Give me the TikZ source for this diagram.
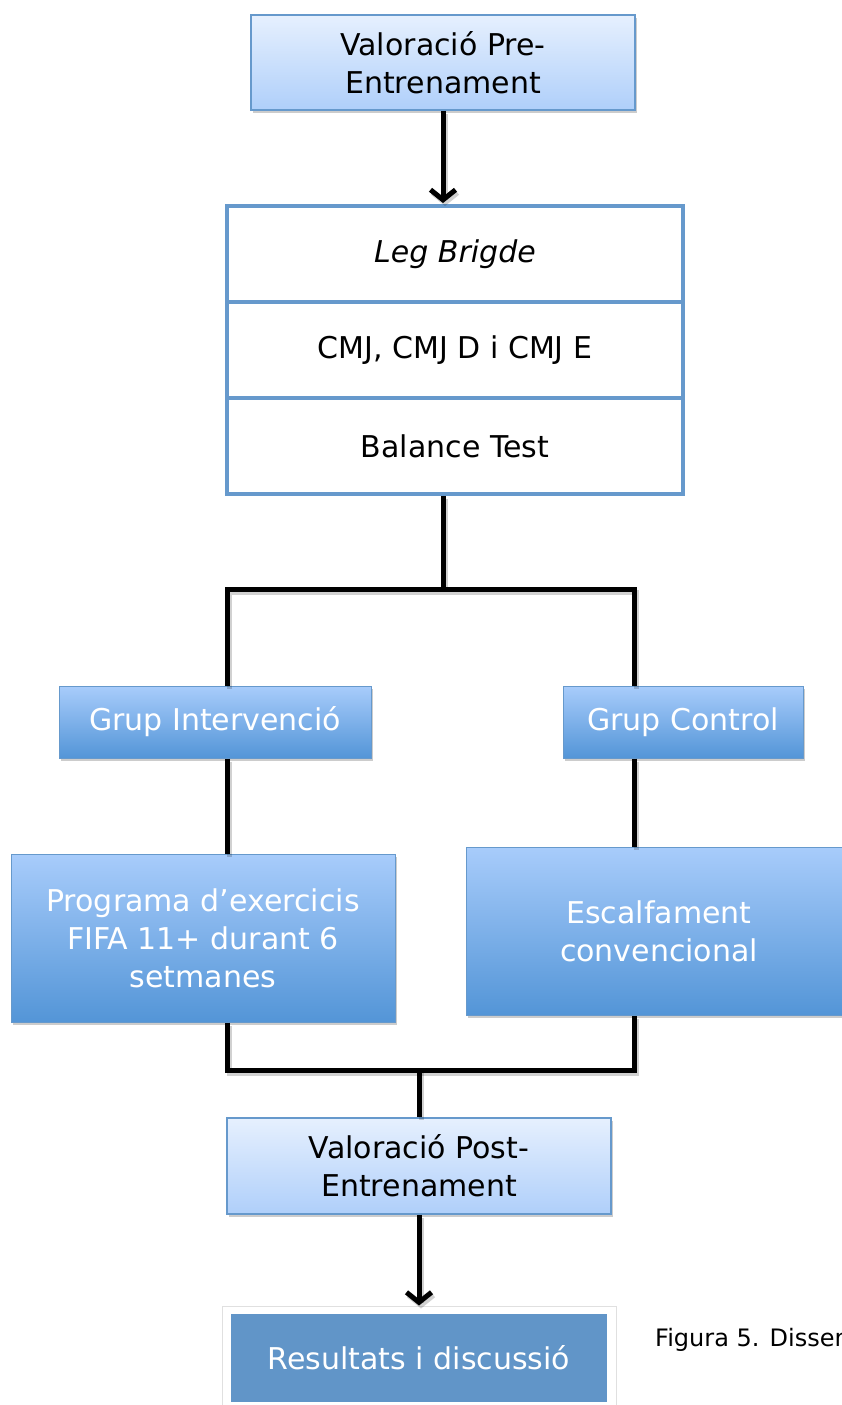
\documentclass[tikz,border=0pt]{standalone}
\usepackage{fontspec}
\setmainfont{DejaVu Sans}
\usetikzlibrary{arrows.meta,shadows}
\definecolor{bord}{HTML}{6699CC}
\definecolor{lighttop}{HTML}{E6F0FE}
\definecolor{lightbot}{HTML}{AFCFFA}
\definecolor{midtop}{HTML}{A8CCFB}
\definecolor{midbot}{HTML}{5395D7}
\definecolor{resfill}{HTML}{6195C8}
\tikzset{
  txt/.style={font=\fontsize{30}{38}\selectfont, align=center, inner sep=0pt},
  lightbox/.style={txt, draw=bord, line width=1.5pt, top color=lighttop, bottom color=lightbot,
    drop shadow={opacity=0.4, shadow xshift=2pt, shadow yshift=-3pt}},
  darkbox/.style={txt, text=white, draw=bord, line width=1pt, top color=midtop, bottom color=midbot,
    drop shadow={opacity=0.4, shadow xshift=2pt, shadow yshift=-3pt}},
  rowbox/.style={txt, draw=bord, line width=4pt, fill=white, minimum width=456pt, minimum height=96pt},
  conn/.style={draw=black, line width=5pt, line join=miter,
    preaction={draw=black, opacity=0.18, line width=5pt, transform canvas={shift={(2pt,-3pt)}}}},
  arr/.style={conn, -{Straight Barb[length=10pt,width=25pt]}},
}
\begin{document}
\begin{tikzpicture}[x=1pt,y=-1pt]
\useasboundingbox (0,0) rectangle (842,1405);
\clip (0,0) rectangle (842,1405);
\fill[white] (0,0) rectangle (842,1405);

\node[lightbox, minimum width=384pt, minimum height=95pt] (pre) at (443,62.5) {Valoració Pre-\\Entrenament};

\node[rowbox] (leg) at (455,254) {\itshape Leg Brigde};
\node[rowbox] (cmj) at (455,350) {CMJ, CMJ D i CMJ E};
\node[rowbox] (bal) at (455,446) {Balance Test};

\draw[arr] (pre.south -| 443,0) -- (443,203);

\coordinate (j1) at (443,589);
\coordinate (c1) at (227,589);
\coordinate (c2) at (634,589);

\node[darkbox, minimum width=312pt, minimum height=72pt] (gi) at (215,722) {Grup Intervenció};
\node[darkbox, minimum width=240pt, minimum height=72pt] (gc) at (683,722) {Grup Control};

\node[darkbox, minimum width=384pt, minimum height=168pt] (pr) at (203,938) {Programa d’exercicis\\FIFA 11+ durant 6\\setmanes};
\node[darkbox, minimum width=386pt, minimum height=168pt] (es) at (659,931) {Escalfament\\convencional};

\draw[conn] (bal.south -| j1) -- (j1);
\draw[conn] (c1 |- gi.north) -- (c1) -- (c2) -- (c2 |- gc.north);
\draw[conn] (c1 |- gi.south) -- (c1 |- pr.north);
\draw[conn] (c2 |- gc.south) -- (c2 |- es.north);

\coordinate (b1) at (227,1070);
\coordinate (b2) at (634,1070);
\coordinate (j2) at (419,1070);
\draw[conn] (b1 |- pr.south) -- (b1) -- (b2) -- (b2 |- es.south);

\node[lightbox, minimum width=384pt, minimum height=96pt] (po) at (419,1166) {Valoració Post-\\Entrenament};
\draw[conn] (j2) -- (po.north);

\node[draw=black!12, line width=1pt, fill=white, minimum width=394pt, minimum height=110pt, inner sep=0pt,
  drop shadow={opacity=0.12, shadow xshift=0pt, shadow yshift=0pt}] (rsframe) at (419,1361) {};
\node[txt, text=white, fill=resfill, minimum width=376pt, minimum height=88pt] (rs) at (419,1358) {Resultats i discussió};
\draw[arr] (po.south) -- (rsframe.north);

\node[font=\fontsize{24}{29}\selectfont, anchor=west, inner sep=0pt] (cap) at (655,1340) {Figura 5. Disseny};
\end{tikzpicture}
\end{document}
